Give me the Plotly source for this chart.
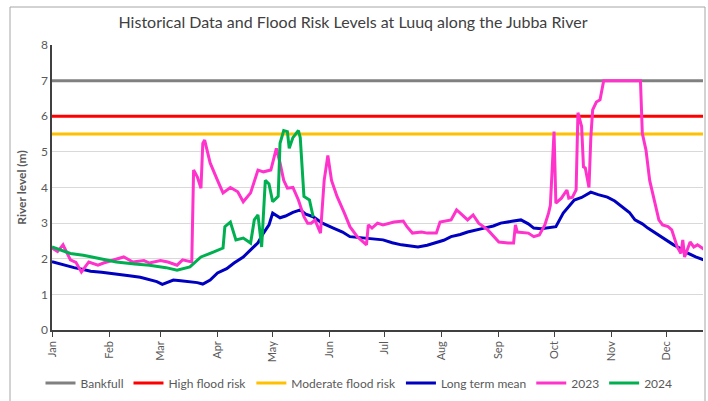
import pandas as pd
import plotly.graph_objects as go

# ---- data (day of year, 0 = 1 Jan) ----
axis_start = "2023-01-01"
axis_end = "2023-12-21"
month_labels = ["Jan", "Feb", "Mar", "Apr", "May", "Jun", "Jul", "Aug", "Sep", "Oct", "Nov", "Dec"]

bankfull_level = 7.0
high_risk_level = 6.0
moderate_risk_level = 5.5

mean_days = [0, 6, 12, 17, 21, 27, 32, 37, 42, 48, 53, 57, 60, 63, 66, 70, 75, 79, 82, 86, 90, 95, 99,
             104, 108, 112, 115, 118, 120, 124, 127, 131, 135, 138, 142, 147, 153, 158, 162, 170, 175,
             180, 185, 190, 195, 199, 204, 208, 213, 217, 222, 226, 231, 235, 240, 244, 250, 255, 259,
             262, 266, 270, 274, 278, 281, 284, 288, 293, 297, 302, 306, 310, 314, 317, 321, 324, 328,
             331, 335, 338, 342, 346, 350, 355]
mean_vals = [1.92, 1.83, 1.75, 1.70, 1.65, 1.62, 1.58, 1.55, 1.52, 1.48, 1.42, 1.36, 1.28, 1.33, 1.40,
             1.38, 1.35, 1.33, 1.29, 1.40, 1.60, 1.72, 1.88, 2.05, 2.25, 2.45, 2.72, 2.95, 3.28, 3.15,
             3.20, 3.30, 3.37, 3.25, 3.18, 3.00, 2.86, 2.75, 2.62, 2.58, 2.55, 2.53, 2.45, 2.39, 2.36,
             2.33, 2.38, 2.44, 2.52, 2.62, 2.68, 2.75, 2.80, 2.86, 2.92, 3.00, 3.05, 3.09, 2.98, 2.86,
             2.84, 2.86, 2.90, 3.28, 3.45, 3.65, 3.72, 3.87, 3.80, 3.73, 3.62, 3.45, 3.30, 3.09, 2.98,
             2.86, 2.72, 2.62, 2.50, 2.39, 2.28, 2.15, 2.05, 1.96]

y2023_days = [0, 3, 6, 10, 13, 16, 20, 25, 28, 33, 39, 44, 50, 53, 59, 63, 68, 71, 76, 77, 79, 81, 82,
              83, 86, 90, 93, 97, 101, 104, 108, 112, 115, 119, 122, 124, 126, 128, 131, 134, 137, 139,
              141, 143, 146, 148, 150, 152, 155, 159, 162, 166, 171, 172, 174, 177, 180, 186, 191, 193,
              196, 201, 204, 209, 211, 217, 220, 222, 226, 229, 232, 237, 243, 248, 251, 252, 253, 259,
              262, 265, 268, 270, 271, 273, 274, 277, 280, 281, 283, 285, 286, 288, 289, 290, 292, 293,
              294, 296, 298, 300, 320, 321, 323, 325, 328, 330, 332, 335, 337, 340, 342, 343, 344, 347,
              349, 351, 355]
y2023_vals = [2.30, 2.20, 2.39, 1.97, 1.90, 1.63, 1.91, 1.82, 1.88, 1.95, 2.05, 1.91, 1.95, 1.88, 1.95,
              1.91, 1.82, 1.97, 1.91, 4.49, 4.30, 3.98, 5.24, 5.33, 4.69, 4.20, 3.85, 4.00, 3.88, 3.60,
              3.85, 4.49, 4.44, 4.49, 5.10, 4.69, 4.20, 3.98, 4.00, 3.65, 3.18, 3.00, 3.00, 3.09, 2.72,
              4.20, 4.90, 4.20, 3.75, 3.28, 2.90, 2.62, 2.39, 2.95, 2.86, 3.00, 2.95, 3.03, 3.06, 2.90,
              2.72, 2.75, 2.72, 2.72, 3.03, 3.09, 3.37, 3.28, 3.09, 3.23, 3.00, 2.81, 2.47, 2.44, 2.44,
              2.95, 2.75, 2.72, 2.62, 2.67, 2.95, 3.28, 3.50, 5.57, 3.56, 3.70, 3.93, 3.70, 3.73, 3.93,
              6.10, 5.71, 4.58, 4.55, 4.00, 5.40, 6.18, 6.40, 6.46, 7.00, 7.00, 5.52, 5.05, 4.20, 3.56,
              3.09, 2.95, 2.90, 2.81, 2.33, 2.15, 2.53, 2.05, 2.47, 2.33, 2.39, 2.25]

y2024_days = [0, 4, 10, 17, 26, 35, 45, 53, 62, 68, 75, 81, 88, 93, 94, 97, 100, 104, 108, 110, 112,
              114, 116, 118, 120, 123, 124, 126, 128, 129, 131, 134, 135, 137, 140, 142]
y2024_vals = [2.33, 2.25, 2.15, 2.10, 2.00, 1.91, 1.85, 1.82, 1.75, 1.68, 1.77, 2.05, 2.19, 2.30, 2.90,
              3.03, 2.53, 2.58, 2.44, 3.09, 3.23, 2.33, 4.20, 4.10, 3.60, 3.75, 5.24, 5.60, 5.57, 5.10,
              5.40, 5.60, 5.40, 3.75, 3.65, 3.18]

# ---- build ----
base = pd.Timestamp(axis_start)


def to_dates(days):
    return base + pd.to_timedelta(days, unit="D")


span = [pd.Timestamp(axis_start), pd.Timestamp(axis_end)]
font_family = "Lato, 'Open Sans', sans-serif"
text_grey = "#595959"

fig = go.Figure()
for name, level, color in [
    ("Bankfull", bankfull_level, "#808080"),
    ("High flood risk", high_risk_level, "#FF0000"),
    ("Moderate flood risk", moderate_risk_level, "#FFC000"),
]:
    fig.add_trace(go.Scatter(x=span, y=[level, level], mode="lines", name=name,
                             line=dict(color=color, width=3)))

fig.add_trace(go.Scatter(x=to_dates(mean_days), y=mean_vals, mode="lines", name="Long term mean",
                         line=dict(color="#0000C0", width=3)))
fig.add_trace(go.Scatter(x=to_dates(y2023_days), y=y2023_vals, mode="lines", name="2023",
                         line=dict(color="#FF33CC", width=3)))
fig.add_trace(go.Scatter(x=to_dates(y2024_days), y=y2024_vals, mode="lines", name="2024",
                         line=dict(color="#00B050", width=3)))

plot_l, plot_r, plot_t, plot_b = 52, 703, 45, 330
W, H = 708, 401
pw, ph = plot_r - plot_l, plot_b - plot_t

fig.update_layout(
    width=W, height=H,
    margin=dict(l=plot_l, r=W - plot_r, t=plot_t, b=H - plot_b, autoexpand=False),
    paper_bgcolor="white", plot_bgcolor="white",
    font=dict(family=font_family, color=text_grey, size=12),
    title=dict(text="Historical Data and Flood Risk Levels at Luuq along the Jubba River",
               x=(353 - 0) / W, xanchor="center", y=1 - 22 / H, yanchor="middle",
               font=dict(size=16, color="#404040", family=font_family)),
    showlegend=True,
    legend=dict(orientation="h", x=(359 - plot_l) / pw, xanchor="center",
                y=(plot_b - 383) / ph, yanchor="middle",
                font=dict(size=12, color=text_grey), traceorder="normal",
                itemwidth=30, bgcolor="rgba(0,0,0,0)"),
    shapes=[dict(type="rect", xref="paper", yref="paper",
                 x0=(10 - plot_l) / pw, x1=(705 - plot_l) / pw,
                 y0=(plot_b - 410) / ph, y1=(plot_b - 7) / ph,
                 line=dict(color="#A6A6A6", width=1), fillcolor="rgba(0,0,0,0)", layer="below")],
)

fig.update_xaxes(
    type="date", range=span, tick0=axis_start, dtick="M1", tickformat="%b",
    tickangle=-90, ticks="outside", ticklen=5, tickcolor="#404040",
    showgrid=False, showline=True, linecolor="#404040", linewidth=1.5,
    tickfont=dict(size=11, color=text_grey), zeroline=False,
)
fig.update_yaxes(
    range=[0, 8], dtick=1, showgrid=True, gridcolor="#D9D9D9", gridwidth=1,
    showline=True, linecolor="#404040", linewidth=1.5, zeroline=False, ticks="",
    tickfont=dict(size=12, color=text_grey),
    title=dict(text="<b>River level (m)</b>", font=dict(size=12, color=text_grey), standoff=12),
)

fig.write_html(
    "out.html",
    config={"displayModeBar": False},
    post_script="document.body.style.margin='0px';document.body.style.overflow='hidden';",
)
